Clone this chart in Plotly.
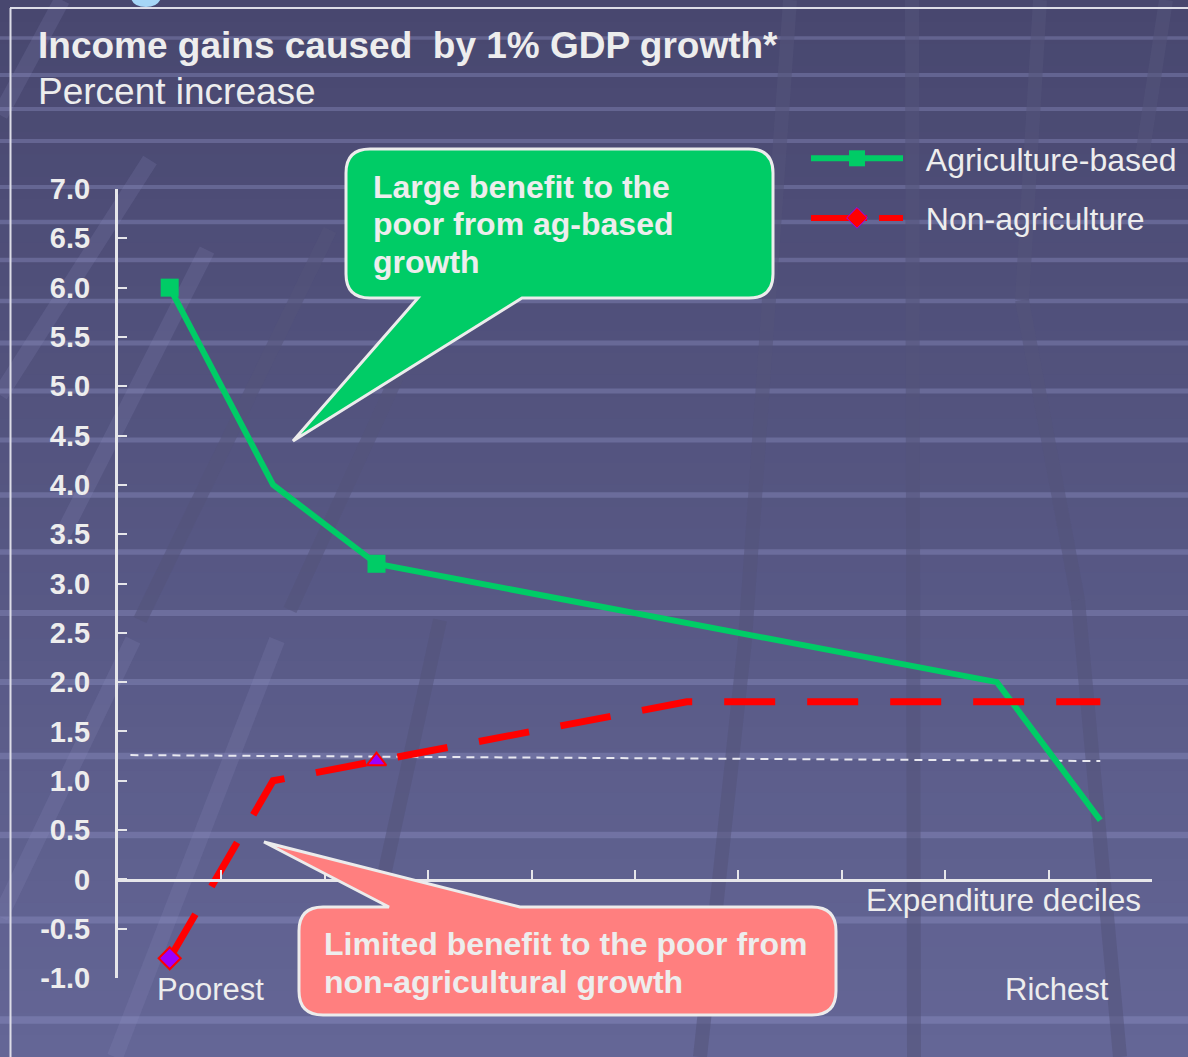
import plotly.graph_objects as go

W, H = 1188, 1057

# ---- data -------------------------------------------------------------
deciles = list(range(1, 11))
ag_based = [6.0, 4.0, 3.2, 3.0, 2.8, 2.6, 2.4, 2.2, 2.0, 0.6]
non_ag = [-0.8, 1.0, 1.2, 1.4, 1.6, 1.8, 1.8, 1.8, 1.8, 1.8]
ref_x = [0.62, 10.0]
ref_y = [1.26, 1.20]
y_ticks = [-1.0, -0.5, 0.0, 0.5, 1.0, 1.5, 2.0, 2.5, 3.0, 3.5, 4.0, 4.5, 5.0, 5.5, 6.0, 6.5, 7.0]
y_tick_text = ["-1.0", "-0.5", "0", "0.5", "1.0", "1.5", "2.0", "2.5", "3.0", "3.5",
               "4.0", "4.5", "5.0", "5.5", "6.0", "6.5", "7.0"]
x_bounds = [d - 0.5 for d in deciles] + [deciles[-1] + 0.5]

FONT = "Liberation Sans, Arial, Helvetica, sans-serif"
TXT = "#ededed"
GREEN = "#00cc66"
RED = "#ff0000"
PURPLE = "#9900ff"
NBSP = "\u00a0"


def pp(x, y):
    """pixel position -> paper coordinates"""
    return x / W, 1 - y / H


def ps(x, y):
    a, b = pp(x, y)
    return f"{a:.5f},{b:.5f}"


shapes = []

# ---- background: vertical gradient ------------------------------------
top_c = (72, 71, 111)
bot_c = (100, 102, 150)
n = 48
for i in range(n):
    t = (i + 0.5) / n
    c = tuple(int(round(top_c[k] + (bot_c[k] - top_c[k]) * t)) for k in range(3))
    y0 = H * i / n
    y1 = H * (i + 1) / n + 1
    x0p, y0p = pp(0, y0)
    x1p, y1p = pp(W, y1)
    shapes.append(dict(type="rect", xref="paper", yref="paper", x0=x0p, x1=x1p,
                       y0=y1p, y1=y0p, fillcolor=f"rgb{c}", line_width=0, layer="below"))

# light horizontal stripes of the backdrop
stripe_rows = [38, 75, 109, 141, 187, 222, 260, 301, 343, 391, 440, 495, 552, 613,
               682, 756, 835, 920, 1020]
for yy in stripe_rows:
    th = 3.5 + 4.0 * yy / H
    a, b0 = pp(0, yy - th / 2)
    c2, b1 = pp(W, yy + th / 2)
    shapes.append(dict(type="rect", xref="paper", yref="paper", x0=a, x1=c2,
                       y0=b1, y1=b0, fillcolor="rgba(150,152,205,0.34)",
                       line_width=0, layer="below"))

# faint slanted bands of the backdrop
grey_bands = [
    ((912, 0), (914, H)),
    ((1040, 0), (1022, 300)),
    ((1022, 300), (1078, 600)),
    ((1078, 600), (1120, H)),
    ((1166, 0), (1140, 170)),
    ((790, 0), (745, 640)),
    ((745, 640), (700, H)),
    ((330, 230), (140, 620)),
    ((400, 370), (290, 610)),
    ((440, 620), (383, 880)),
]
for (xa, ya), (xb, yb) in grey_bands:
    a0, b0 = pp(xa, ya)
    a1, b1 = pp(xb, yb)
    shapes.append(dict(type="line", xref="paper", yref="paper", x0=a0, y0=b0, x1=a1, y1=b1,
                       line=dict(color="rgba(84,84,122,0.55)", width=14), layer="below"))

light_bands = [
    ((62, 0), (0, 115)),
    ((150, 160), (0, 395)),
    ((207, 250), (60, 540)),
    ((277, 640), (115, H)),
    ((133, 640), (0, 917)),
]
for (xa, ya), (xb, yb) in light_bands:
    a0, b0 = pp(xa, ya)
    a1, b1 = pp(xb, yb)
    shapes.append(dict(type="line", xref="paper", yref="paper", x0=a0, y0=b0, x1=a1, y1=b1,
                       line=dict(color="rgba(150,150,200,0.16)", width=16), layer="below"))

# slide frame
for (xa, ya), (xb, yb) in [((10.5, 8), (10.5, H)), ((10, 8), (W, 8))]:
    a0, b0 = pp(xa, ya)
    a1, b1 = pp(xb, yb)
    shapes.append(dict(type="line", xref="paper", yref="paper", x0=a0, y0=b0, x1=a1, y1=b1,
                       line=dict(color="#dddde8", width=2), layer="below"))

# tail of the slide heading peeking in at the top edge
shapes.append(dict(type="path", xref="paper", yref="paper",
                   path=" ".join([f"M {ps(131, -2)}", f"Q {ps(133, 7)} {ps(146, 7)}",
                                  f"Q {ps(158, 7)} {ps(161, -2)}", "Z"]),
                   fillcolor="#a6d6f6", line_width=0, layer="below"))


# ---- callout bubbles ---------------------------------------------------
def bubble(x0, y0, x1, y1, r, tip, base, side):
    """rounded box with a pointer on its bottom or top edge"""
    bl, br = base
    p = [f"M {ps(x0 + r, y0)}"]
    if side == "top":
        p += [f"L {ps(bl, y0)}", f"L {ps(*tip)}", f"L {ps(br, y0)}"]
    p += [f"L {ps(x1 - r, y0)}", f"Q {ps(x1, y0)} {ps(x1, y0 + r)}",
          f"L {ps(x1, y1 - r)}", f"Q {ps(x1, y1)} {ps(x1 - r, y1)}"]
    if side == "bottom":
        p += [f"L {ps(br, y1)}", f"L {ps(*tip)}", f"L {ps(bl, y1)}"]
    p += [f"L {ps(x0 + r, y1)}", f"Q {ps(x0, y1)} {ps(x0, y1 - r)}",
          f"L {ps(x0, y0 + r)}", f"Q {ps(x0, y0)} {ps(x0 + r, y0)}", "Z"]
    return " ".join(p)


shapes.append(dict(type="path", xref="paper", yref="paper",
                   path=bubble(346, 149, 773, 298, 24, (293, 441), (418, 522), "bottom"),
                   fillcolor=GREEN, line=dict(color="#ececec", width=3), layer="above"))
shapes.append(dict(type="path", xref="paper", yref="paper",
                   path=bubble(299, 907, 836, 1015, 24, (264, 842), (389, 520), "top"),
                   fillcolor="#ff7f7f", line=dict(color="#ececec", width=3), layer="above"))

# ---- text ----------------------------------------------------------------
annotations = []


def label(text, x, y, size, bold=False, xanchor="left", color=TXT):
    a, b = pp(x, y)
    annotations.append(dict(text=text, xref="paper", yref="paper", x=a, y=b,
                            xanchor=xanchor, yanchor="middle", showarrow=False,
                            font=dict(family=FONT, size=size, color=color,
                                      weight="bold" if bold else "normal")))


label("Income gains caused  by 1% GDP growth*", 36, 45, 37, bold=True)
label("Percent increase", 36, 91, 37)

for i, line in enumerate(["Large benefit to the", "poor from ag-based", "growth"]):
    label(line, 371, 187 + 37.5 * i, 32, bold=True)
for i, line in enumerate(["Limited benefit to the poor from", "non-agricultural growth"]):
    label(line, 322, 944 + 38 * i, 32, bold=True)

label("Poorest", 210, 989, 31, xanchor="center")
label("Richest", 1057, 989, 31, xanchor="center")
label("Expenditure deciles", 1003, 900, 31.5, xanchor="center")

# ---- traces -------------------------------------------------------------
fig = go.Figure()

fig.add_trace(go.Scatter(
    x=ref_x, y=ref_y, mode="lines", showlegend=False, hoverinfo="skip",
    line=dict(color="#e8e8f0", width=2, dash="8px,6px")))

ag_marked = [0, 2]
fig.add_trace(go.Scatter(
    x=deciles, y=ag_based, mode="lines+markers", name="Agriculture-based",
    showlegend=False,
    line=dict(color=GREEN, width=6),
    marker=dict(symbol="square", color=GREEN, line=dict(width=0),
                size=[18 if i in ag_marked else 0 for i in range(len(deciles))],
                opacity=[1 if i in ag_marked else 0 for i in range(len(deciles))])))

na_symbols = {0: "diamond", 2: "triangle-up"}
fig.add_trace(go.Scatter(
    x=deciles, y=non_ag, mode="lines+markers", name="Non-agriculture",
    showlegend=False,
    line=dict(color=RED, width=7, dash="51px,32px"),
    marker=dict(symbol=[na_symbols.get(i, "circle") for i in range(len(deciles))],
                color=PURPLE, line=dict(color=RED, width=2),
                size=[17 if i in na_symbols else 0 for i in range(len(deciles))],
                opacity=[1 if i in na_symbols else 0 for i in range(len(deciles))])))

# legend entries
fig.add_trace(go.Scatter(
    x=[None], y=[None], mode="lines+markers", name=NBSP * 2 + "Agriculture-based",
    legendgroup="ag",
    line=dict(color=GREEN, width=6),
    marker=dict(symbol="square", size=20, color=GREEN, line=dict(width=0))))
fig.add_trace(go.Scatter(
    x=[None], y=[None], mode="lines+markers", name=NBSP * 2 + "Non-agriculture",
    legendgroup="nonag",
    line=dict(color=RED, width=6, dash="56px,12px"),
    marker=dict(symbol="diamond", size=17, color=RED, line=dict(color=PURPLE, width=1))))

ax_col = "#e6e6ea"
fig.update_layout(
    width=W, height=H, autosize=False,
    margin=dict(l=0, r=0, t=0, b=0, pad=0, autoexpand=False),
    paper_bgcolor="#56578a", plot_bgcolor="rgba(0,0,0,0)",
    font=dict(family=FONT, color=TXT),
    shapes=shapes, annotations=annotations,
    showlegend=True,
    legend=dict(x=pp(806, 0)[0], y=pp(0, 131)[1], xanchor="left", yanchor="top",
                bgcolor="rgba(0,0,0,0)", borderwidth=0,
                font=dict(family=FONT, size=32, color=TXT),
                itemwidth=92, tracegroupgap=15),
    xaxis=dict(domain=[118 / W, 1152 / W], range=[0.5, 10.5],
               anchor="free", position=pp(0, 880)[1], automargin=False,
               showline=True, linecolor=ax_col, linewidth=3,
               ticks="inside", ticklen=9, tickwidth=2, tickcolor=ax_col,
               tickvals=x_bounds, showticklabels=False,
               showgrid=False, zeroline=False),
    yaxis=dict(domain=[pp(0, 978)[1], pp(0, 189)[1]], range=[-1, 7], automargin=False,
               showline=True, linecolor=ax_col, linewidth=3,
               ticks="inside", ticklen=9, tickwidth=2, tickcolor=ax_col,
               tickvals=y_ticks, ticktext=y_tick_text,
               tickfont=dict(family=FONT, size=29, color=TXT, weight="bold"),
               ticklabelstandoff=19,
               showgrid=False, zeroline=False),
)

fig.write_html("out.html")
